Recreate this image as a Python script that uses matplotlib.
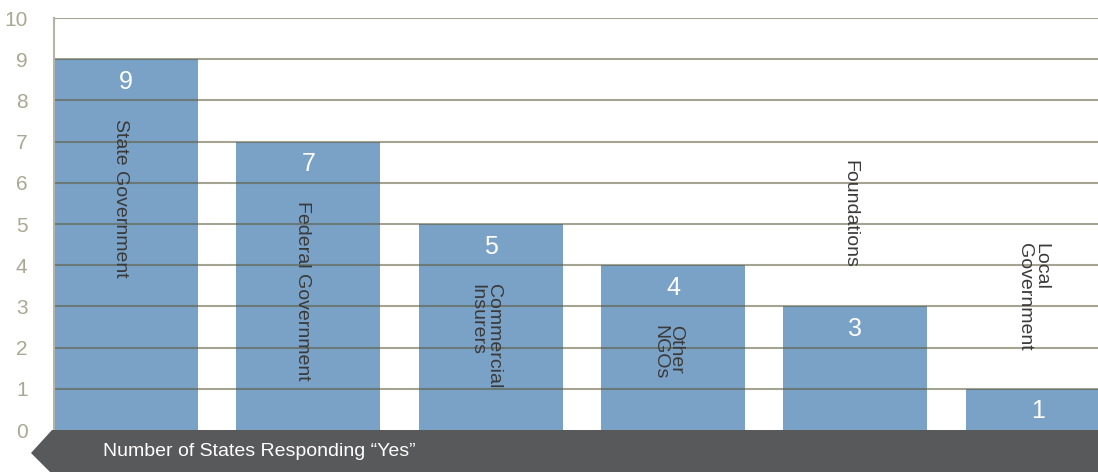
import matplotlib.pyplot as plt
from matplotlib.patches import Polygon

categories = ['State Government', 'Federal Government', 'Commercial\nInsurers',
              'Other\nNGOs', 'Foundations', 'Local\nGovernment']
counts = [9, 7, 5, 4, 3, 1]
yticks = [0, 1, 2, 3, 4, 5, 6, 7, 8, 9, 10]
banner_text = 'Number of States Responding \u201cYes\u201d'

plt.rcParams['font.family'] = ['Liberation Sans Narrow', 'Liberation Sans', 'DejaVu Sans']

fig = plt.figure(figsize=(10.98, 4.72), dpi=100)
ax = fig.add_axes([54/1098, 42/472, 1 - 54/1098, 412/472])

x = list(range(len(categories)))
ax.bar(x, counts, width=0.79, color='#7aa1c6', zorder=1)
ax.set_xlim(-0.395, 5.33)
ax.set_ylim(0, 10)

# grid lines sit on top of the bars
for v in yticks[1:]:
    ax.axhline(v, color='#5c5838', alpha=0.55, lw=1.5, zorder=2)

ax.set_yticks(yticks)
ax.tick_params(axis='y', length=0, pad=19, labelsize=15, labelcolor='#a9a892')
ax.set_xticks([])
for s in ['top', 'right', 'bottom']:
    ax.spines[s].set_visible(False)
ax.spines['left'].set_color('#b4b3a6')
ax.spines['left'].set_linewidth(1.5)

# label offsets for the two short bars, whose names go above them
label_top_above = {3: 6.55, 1: 4.55}

for i, (cat, n) in enumerate(zip(categories, counts)):
    ax.text(i, n - 0.55, str(n), ha='center', va='center', color='white',
            fontsize=18, zorder=3)
    top = n - 1.45 if n >= 4 else label_top_above[n]
    ax.text(i - 0.03, top, cat, rotation=-90, ha='center', va='top',
            multialignment='left', color='#3a3a3a', fontsize=14,
            linespacing=0.95, zorder=3)

# dark arrow banner along the bottom
banner = Polygon([[52/1098, 42/472], [1.0, 42/472], [1.0, 0.0],
                  [50/1098, 0.0], [31/1098, 19/472]],
                 closed=True, transform=fig.transFigure, facecolor='#58595b',
                 edgecolor='none')
fig.patches.append(banner)
fig.text(103/1098, 20/472, banner_text, color='white', fontsize=14,
         ha='left', va='center')

fig.savefig('out.png', dpi=100)
